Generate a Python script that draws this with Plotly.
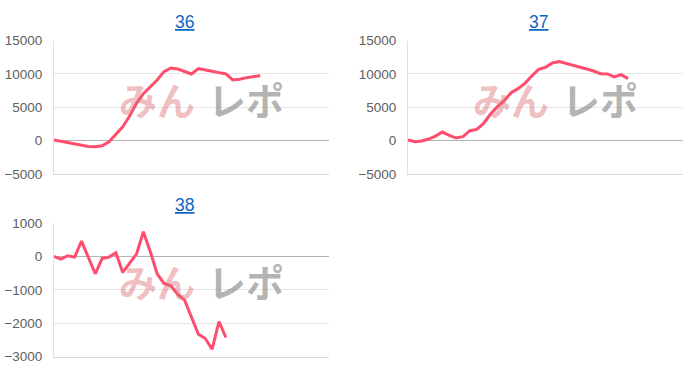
import plotly.graph_objects as go

titles = ["36", "37", "38"]
s36 = [100, -100, -330, -530, -670, -860, -900, -770, -150, 950, 2100, 3700, 5600, 7050, 8050,
       9100, 10350, 10900, 10750, 10400, 10000, 10800, 10650, 10400, 10200, 10000, 9100, 9200,
       9450, 9650, 9750]
s37 = [100, -150, -50, 250, 700, 1300, 800, 400, 600, 1500, 1700, 2600, 4000, 5100, 6000, 7200,
       7800, 8600, 9700, 10700, 11000, 11650, 11850, 11600, 11350, 11050, 10750, 10450, 10050,
       10000, 9550, 9900, 9300]
s38 = [0, -80, 20, -20, 460, -30, -520, -60, -20, 110, -480, -200, 70, 740, 150, -520, -810,
       -880, -1140, -1310, -1800, -2330, -2460, -2780, -1950, -2430]
series = [s36, s37, s38]
yranges = [[-5000, 15000], [-5000, 15000], [-3000, 1000]]
ydticks = [5000, 5000, 1000]

W, H = 700, 378
# pixel boxes (left, right, top, bottom)
boxes = [(54, 329, 35, 174), (408, 683, 35, 174), (54, 329, 225, 364)]
title_pos = [(184, 16), (538, 16), (184, 206)]

line_color = "#ff4d6d"
fig = go.Figure()
annotations = []
for i, (vals, box) in enumerate(zip(series, boxes)):
    n = i + 1
    xa = "x" if n == 1 else f"x{n}"
    ya = "y" if n == 1 else f"y{n}"
    fig.add_trace(go.Scatter(x=list(range(len(vals))), y=vals, mode="lines",
                             line=dict(color=line_color, width=3), xaxis=xa, yaxis=ya,
                             showlegend=False, hoverinfo="skip"))
    l, r, t, b = box
    xkey = "xaxis" if n == 1 else f"xaxis{n}"
    ykey = "yaxis" if n == 1 else f"yaxis{n}"
    fig.update_layout(**{
        xkey: dict(domain=[l / W, r / W], range=[0, 40], showticklabels=False, showgrid=False,
                   zeroline=False, showline=True, linecolor="#d9d9d9", linewidth=1,
                   anchor=ya, mirror=False),
        ykey: dict(domain=[1 - b / H, 1 - t / H], range=yranges[i], dtick=ydticks[i],
                   tickformat="d",
                   showgrid=True, gridcolor="#e6e6e6", gridwidth=1, zeroline=True,
                   zerolinecolor="#b3b3b3", zerolinewidth=1, showline=True,
                   linecolor="#e0e0e0", linewidth=1, anchor=xa, ticks="outside", ticklen=8,
                   tickcolor="rgba(0,0,0,0)",
                   tickfont=dict(family="Liberation Sans, Arial", size=13.5, color="#606060")),
    })
    tx, ty = title_pos[i]
    annotations.append(dict(text=f"<u>{titles[i]}</u>", x=tx / W, y=1 - ty / H, xref="paper",
                            yref="paper", showarrow=False, xanchor="center", yanchor="middle",
                            font=dict(family="Liberation Sans, Arial", size=17.5, color="#0a66c2")))
    # watermark
    cx = (l + r) / 2 + 10
    annotations.append(dict(text="<b>みん</b>", x=(cx - 45) / W, y=1 - (t + 60) / H, xref="paper",
                            yref="paper", showarrow=False, xanchor="center", yanchor="middle",
                            font=dict(family="Noto Sans CJK JP", size=38,
                                      color="rgba(220,110,115,0.45)")))
    annotations.append(dict(text="<b>レポ</b>", x=(cx + 44) / W, y=1 - (t + 60) / H, xref="paper",
                            yref="paper", showarrow=False, xanchor="center", yanchor="middle",
                            font=dict(family="Noto Sans CJK JP", size=38,
                                      color="rgba(130,130,130,0.6)")))

fig.update_layout(width=W, height=H, margin=dict(l=0, r=0, t=0, b=0),
                  paper_bgcolor="white", plot_bgcolor="white", annotations=annotations)
fig.write_html("out.html")
